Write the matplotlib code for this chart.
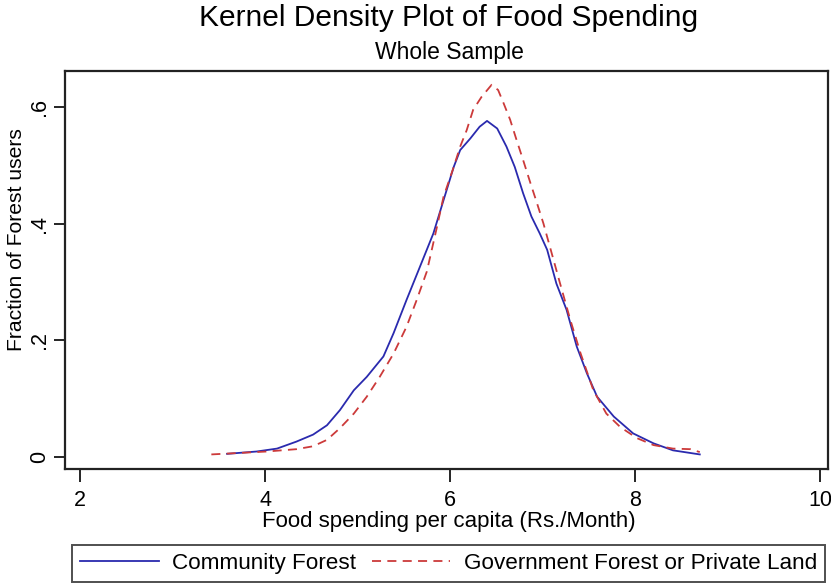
import matplotlib.pyplot as plt
from matplotlib.ticker import FuncFormatter

# kernel density curves read as (food spending, density) pairs
community_x = [3.59, 3.91, 4.13, 4.34, 4.52, 4.67, 4.81, 4.96, 5.10, 5.28, 5.39,
               5.53, 5.66, 5.82, 5.93, 6.04, 6.11, 6.22, 6.32, 6.40, 6.51, 6.61,
               6.70, 6.79, 6.88, 6.97, 7.05, 7.15, 7.26, 7.37, 7.48, 7.59, 7.77,
               7.98, 8.20, 8.41, 8.70]
community_y = [0.005, 0.009, 0.014, 0.026, 0.038, 0.054, 0.080, 0.114, 0.137, 0.172,
               0.212, 0.269, 0.320, 0.383, 0.440, 0.497, 0.526, 0.546, 0.566, 0.576,
               0.563, 0.532, 0.497, 0.452, 0.412, 0.383, 0.355, 0.297, 0.252, 0.189,
               0.143, 0.103, 0.069, 0.040, 0.023, 0.011, 0.004]

govt_x = [3.42, 4.02, 4.34, 4.52, 4.67, 4.81, 4.96, 5.10, 5.24, 5.39, 5.53, 5.64,
          5.75, 5.86, 5.93, 6.04, 6.11, 6.18, 6.25, 6.34, 6.45, 6.52, 6.58, 6.65,
          6.72, 6.79, 6.87, 6.94, 7.01, 7.08, 7.19, 7.30, 7.41, 7.55, 7.69, 7.84,
          8.02, 8.20, 8.41, 8.60, 8.70]
govt_y = [0.004, 0.009, 0.013, 0.018, 0.029, 0.049, 0.074, 0.103, 0.137, 0.177,
          0.223, 0.269, 0.318, 0.395, 0.446, 0.497, 0.532, 0.560, 0.595, 0.617,
          0.638, 0.629, 0.606, 0.578, 0.543, 0.509, 0.469, 0.435, 0.400, 0.360,
          0.297, 0.235, 0.178, 0.114, 0.074, 0.051, 0.032, 0.020, 0.014, 0.013,
          0.008]

x_ticks = [2, 4, 6, 8, 10]
y_ticks = [0, 0.2, 0.4, 0.6]

plt.rcParams['font.family'] = ['Liberation Sans', 'DejaVu Sans']

fig = plt.figure(figsize=(8.31, 5.83), dpi=100)
ax = fig.add_axes([65 / 831, 114 / 583, 763 / 831, 398 / 583])

l1, = ax.plot(community_x, community_y, color='#2a2aae', lw=1.3,
              label='Community Forest')
l2, = ax.plot(govt_x, govt_y, color='#cc3a3a', lw=1.3, linestyle=(0, (5, 3.5)),
              label='Government Forest or Private Land')

ax.set_xlim(1.838, 10.086)
ax.set_ylim(-0.021, 0.6616)
ax.set_xticks(x_ticks)
ax.set_yticks(y_ticks)
ax.yaxis.set_major_formatter(FuncFormatter(lambda v, p: '0' if v == 0 else ('%.1f' % v).lstrip('0')))

for s in ax.spines.values():
    s.set_linewidth(1.6)
    s.set_color('#222222')

ax.tick_params(axis='x', length=9, width=1.2, pad=6, labelsize=15.5)
ax.tick_params(axis='y', length=8, width=1.2, pad=3, labelsize=15.5)
for lab in ax.get_yticklabels():
    lab.set_rotation(90)
    lab.set_va('center')

ax.set_xlabel('Food spending per capita (Rs./Month)', fontsize=16, va='center')
ax.xaxis.set_label_coords((449 - 65) / 763, -(522 - 469) / 398)
ax.set_ylabel('Fraction of Forest users', fontsize=15.2, va='center')
ax.yaxis.set_label_coords(-(65 - 17) / 763, (469 - 240) / 398)

fig.text(449 / 831, 1 - 18 / 583, 'Kernel Density Plot of Food Spending',
         ha='center', va='center', fontsize=21.5)
fig.text(449 / 831, 1 - 52 / 583, 'Whole Sample',
         ha='center', va='center', fontsize=16.5)

leg = fig.legend(handles=[l1, l2], ncol=2, loc='lower left',
                 bbox_to_anchor=(72 / 831, 1 / 583, 753 / 831, 39 / 583),
                 mode='expand', fontsize=16.2, handlelength=3.5, frameon=True,
                 fancybox=False, edgecolor='#222222', borderaxespad=0,
                 borderpad=0.35, columnspacing=1.0, handletextpad=0.6)
leg.get_frame().set_linewidth(1.4)

fig.savefig('out.png', dpi=100)
